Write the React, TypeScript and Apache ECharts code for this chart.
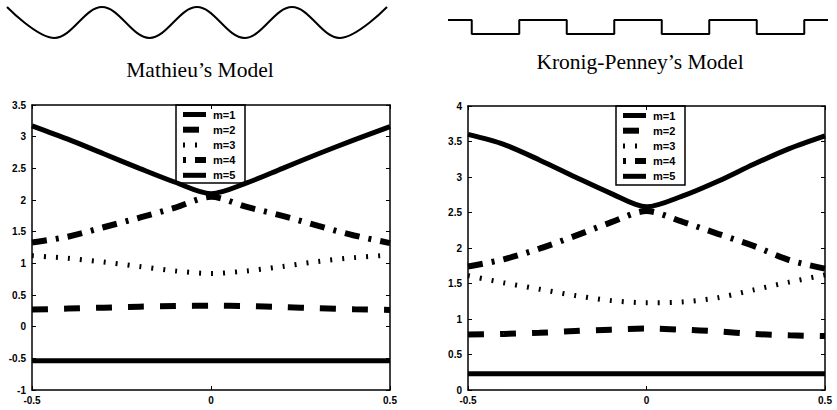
import { useEffect, useRef } from "react";
import * as echarts from "echarts";

// Reduced wave vector k (units of the reciprocal lattice vector)
const kPoints = [-0.5, -0.4, -0.3, -0.2, -0.1, 0, 0.1, 0.2, 0.3, 0.4, 0.5];
const bandLabels = ["m=1", "m=2", "m=3", "m=4", "m=5"];

// Mathieu (cosine potential) band energies
const mathieuM1 = [-0.54, -0.54, -0.54, -0.54, -0.54, -0.54, -0.54, -0.54, -0.54, -0.54, -0.54];
const mathieuM2 = [0.27, 0.285, 0.3, 0.315, 0.325, 0.33, 0.325, 0.31, 0.29, 0.275, 0.265];
const mathieuM3 = [1.12, 1.08, 1.02, 0.95, 0.88, 0.84, 0.88, 0.95, 1.03, 1.09, 1.13];
const mathieuM4 = [1.33, 1.42, 1.57, 1.72, 1.88, 2.05, 1.89, 1.75, 1.59, 1.44, 1.32];
const mathieuM5 = [3.17, 2.96, 2.73, 2.5, 2.28, 2.1, 2.27, 2.5, 2.73, 2.95, 3.16];

// Kronig-Penney (square barrier) band energies
const kpM1 = [0.23, 0.23, 0.23, 0.23, 0.23, 0.23, 0.23, 0.23, 0.23, 0.23, 0.23];
const kpM2 = [0.78, 0.79, 0.805, 0.83, 0.85, 0.865, 0.85, 0.825, 0.79, 0.77, 0.76];
const kpM3 = [1.61, 1.51, 1.42, 1.33, 1.26, 1.23, 1.24, 1.3, 1.41, 1.52, 1.62];
const kpM4 = [1.74, 1.84, 1.99, 2.17, 2.36, 2.52, 2.37, 2.2, 2.03, 1.83, 1.71];
const kpM5 = [3.6, 3.46, 3.24, 3.0, 2.77, 2.58, 2.73, 2.94, 3.18, 3.4, 3.58];

// Axis ranges
const kRange = { min: -0.5, max: 0.5, interval: 0.5 };
const mathieuEnergyRange = { min: -1, max: 3.5, interval: 0.5 };
const kpEnergyRange = { min: 0, max: 4, interval: 0.5 };

// Potential sketches drawn above each panel
const cosinePotentialX = [0, 1, 2, 3, 4, 5, 6, 7, 8]; // in half periods
const cosinePotentialV = [1, -1, 1, -1, 1, -1, 1, -1, 1];
const squarePotentialX = [0, 0.25, 0.25, 0.75, 0.75, 1.25, 1.25, 1.75, 1.75, 2.25, 2.25, 2.75, 2.75, 3.25, 3.25, 3.75, 3.75, 4];
const squarePotentialV = [1, 1, 0, 0, 1, 1, 0, 0, 1, 1, 0, 0, 1, 1, 0, 0, 1, 1];

type BandStyle = { width: number; dash: "solid" | number[]; legendOffset: number };
const bandStyles: BandStyle[] = [
  { width: 5, dash: "solid", legendOffset: 0 },
  { width: 6, dash: [16, 16], legendOffset: 0 },
  { width: 5, dash: [2, 10], legendOffset: 0 },
  { width: 6, dash: [15, 9, 3, 9], legendOffset: 24 },
  { width: 5, dash: "solid", legendOffset: 0 },
];

const tickFont = {
  fontFamily: "Liberation Sans",
  fontWeight: "bold" as const,
  fontSize: 10,
  color: "#000",
};

const zip = (xs: number[], ys: number[]) => xs.map((x, i) => [x, ys[i]]);

function frameAxes(gridIndex: number, xr: typeof kRange, yr: typeof kRange) {
  const axisLine = { show: true, onZero: false, lineStyle: { color: "#000", width: 1.5 } };
  const tick = { show: true, inside: true, length: 4, lineStyle: { color: "#000", width: 1 } };
  const xAxes = [
    {
      type: "value", gridIndex, position: "bottom", ...xr,
      axisLine, axisTick: tick, splitLine: { show: false },
      axisLabel: { ...tickFont, margin: 5 },
    },
    {
      type: "value", gridIndex, position: "top", ...xr,
      axisLine, axisTick: tick, splitLine: { show: false },
      axisLabel: { show: false },
    },
  ];
  const yAxes = [
    {
      type: "value", gridIndex, position: "left", ...yr,
      axisLine, axisTick: tick, splitLine: { show: false },
      axisLabel: { ...tickFont, margin: 6 },
    },
    {
      type: "value", gridIndex, position: "right", ...yr,
      axisLine, axisTick: tick, splitLine: { show: false },
      axisLabel: { show: false },
    },
  ];
  return { xAxes, yAxes };
}

function bandSeries(bands: number[][], xAxisIndex: number, yAxisIndex: number) {
  return bands.map((vals, i) => ({
    type: "line",
    name: bandLabels[i],
    xAxisIndex,
    yAxisIndex,
    data: zip(kPoints, vals),
    symbol: "none",
    smooth: 0.3,
    lineStyle: {
      color: "#000",
      width: bandStyles[i].width,
      type: bandStyles[i].dash,
      cap: "butt",
    },
  }));
}

function legendBox(x: number, y: number, w: number, h: number) {
  const rowTop = 9.5;
  const rowStep = 15.2;
  const children: any[] = [
    {
      type: "rect",
      shape: { x, y, width: w, height: h },
      style: { fill: "#fff", stroke: "#000", lineWidth: 1.5 },
    },
  ];
  bandLabels.forEach((label, i) => {
    const cy = y + rowTop + i * rowStep;
    const st = bandStyles[i];
    children.push({
      type: "line",
      shape: { x1: x + 7, y1: cy, x2: x + 30, y2: cy },
      style: {
        stroke: "#000",
        lineWidth: st.width,
        lineDash: st.dash === "solid" ? null : st.dash,
        lineDashOffset: st.legendOffset,
      },
    });
    children.push({
      type: "text",
      x: x + 37,
      y: cy,
      style: {
        text: label,
        fill: "#000",
        fontFamily: "Liberation Sans",
        fontWeight: "bold",
        fontSize: 11,
        align: "left",
        verticalAlign: "middle",
      },
    });
  });
  return { type: "group", z: 100, children };
}

export default function App() {
  const ref = useRef<HTMLDivElement>(null);

  useEffect(() => {
    if (!ref.current) return;
    const chart = echarts.init(ref.current, undefined, { renderer: "svg" });

    const left = frameAxes(0, kRange, mathieuEnergyRange);
    const right = frameAxes(1, kRange, kpEnergyRange);

    const hiddenAxis = (gridIndex: number, min: number, max: number) => ({
      type: "value", gridIndex, min, max, show: false,
    });

    const option: any = {
      animation: false,
      backgroundColor: "#fff",
      grid: [
        { left: 32, top: 105, width: 358, height: 285 },
        { left: 468, top: 106, width: 357, height: 284 },
        { left: 7, top: 7, width: 380, height: 31 },
        { left: 448, top: 20, width: 380, height: 14 },
      ],
      xAxis: [
        ...left.xAxes,
        ...right.xAxes,
        hiddenAxis(2, 0, 8),
        hiddenAxis(3, 0, 4),
      ],
      yAxis: [
        ...left.yAxes,
        ...right.yAxes,
        hiddenAxis(2, -1, 1),
        hiddenAxis(3, 0, 1),
      ],
      series: [
        ...bandSeries([mathieuM1, mathieuM2, mathieuM3, mathieuM4, mathieuM5], 0, 0),
        ...bandSeries([kpM1, kpM2, kpM3, kpM4, kpM5], 2, 2),
        {
          type: "line",
          xAxisIndex: 4,
          yAxisIndex: 4,
          data: zip(cosinePotentialX, cosinePotentialV),
          symbol: "none",
          smooth: 0.36,
          clip: false,
          lineStyle: { color: "#000", width: 2 },
        },
        {
          type: "line",
          xAxisIndex: 5,
          yAxisIndex: 5,
          data: zip(squarePotentialX, squarePotentialV),
          symbol: "none",
          clip: false,
          lineStyle: { color: "#000", width: 2 },
        },
      ],
      graphic: [
        {
          type: "text",
          x: 200,
          y: 70,
          style: {
            text: "Mathieu\u2019s Model",
            fill: "#000",
            fontFamily: "Liberation Serif",
            fontSize: 21.5,
            align: "center",
            verticalAlign: "middle",
          },
        },
        {
          type: "text",
          x: 640,
          y: 62,
          style: {
            text: "Kronig-Penney\u2019s Model",
            fill: "#000",
            fontFamily: "Liberation Serif",
            fontSize: 21.5,
            align: "center",
            verticalAlign: "middle",
          },
        },
        legendBox(176, 105, 69, 78),
        legendBox(616, 106, 69, 79),
      ],
    };

    chart.setOption(option);
    return () => chart.dispose();
  }, []);

  return (
    <div
      ref={ref}
      style={{ position: "fixed", left: 0, top: 0, width: 837, height: 410, background: "#fff" }}
    />
  );
}
